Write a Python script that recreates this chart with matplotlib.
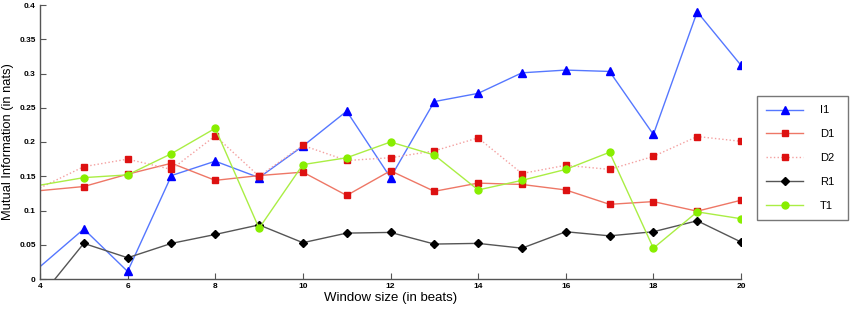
import matplotlib
matplotlib.use("Agg")
import matplotlib.pyplot as plt

plt.rcParams['font.family'] = ['Liberation Sans', 'DejaVu Sans']

window = [4, 5, 6, 7, 8, 9, 10, 11, 12, 13, 14, 15, 16, 17, 18, 19, 20]
I1 = [0.018, 0.073, 0.011, 0.151, 0.172, 0.148, 0.194, 0.245, 0.148, 0.259, 0.271,
      0.301, 0.305, 0.303, 0.211, 0.390, 0.312]
D1 = [0.129, 0.135, 0.153, 0.169, 0.144, 0.151, 0.156, 0.122, 0.158, 0.128, 0.140,
      0.138, 0.130, 0.109, 0.113, 0.099, 0.115]
D2 = [0.133, 0.164, 0.175, 0.160, 0.209, 0.150, 0.195, 0.173, 0.177, 0.187, 0.206,
      0.154, 0.166, 0.160, 0.179, 0.208, 0.201]
R1 = [-0.027, 0.052, 0.031, 0.052, 0.065, 0.079, 0.053, 0.067, 0.068, 0.051, 0.052,
      0.045, 0.069, 0.063, 0.069, 0.085, 0.054]
T1 = [0.137, 0.148, 0.152, 0.183, 0.220, 0.074, 0.167, 0.177, 0.200, 0.181, 0.130,
      0.144, 0.160, 0.185, 0.045, 0.098, 0.088]

labels = ['I1', 'D1', 'D2', 'R1', 'T1']
xticks = [4, 6, 8, 10, 12, 14, 16, 18, 20]
yticks = [0, 0.05, 0.1, 0.15, 0.2, 0.25, 0.3, 0.35, 0.4]
ytick_labels = ['0', '0.05', '0.1', '0.15', '0.2', '0.25', '0.3', '0.35', '0.4']

fig = plt.figure(figsize=(8.5, 3.09), dpi=100)
ax = fig.add_axes([40/850, 1 - 279/309, (741-40)/850, (279-5)/309])

styles = [
    dict(data=I1, color='#5577ff', mfc='#0000ff', marker='^', ls='-', ms=5.5),
    dict(data=D1, color='#ee7766', mfc='#dd1111', marker='s', ls='-', ms=4),
    dict(data=D2, color='#f4a0a0', mfc='#dd1111', marker='s', ls=':', ms=4),
    dict(data=R1, color='#555555', mfc='#000000', marker='D', ls='-', ms=4),
    dict(data=T1, color='#aaee44', mfc='#88ee00', marker='o', ls='-', ms=5),
]
for lab, st in zip(labels, styles):
    ax.plot(window, st['data'], color=st['color'], ls=st['ls'], lw=1.0,
            marker=st['marker'], ms=st['ms'], mfc=st['mfc'], mec=st['mfc'],
            markevery=list(range(1, len(window))), label=lab)

ax.set_xlim(4, 20)
ax.set_ylim(0, 0.4)
ax.set_xticks(xticks)
ax.set_yticks(yticks)
ax.set_yticklabels(ytick_labels)
for s in ['top', 'right']:
    ax.spines[s].set_visible(False)
for s in ['left', 'bottom']:
    ax.spines[s].set_color('#555555')
    ax.spines[s].set_linewidth(1.0)
ax.tick_params(direction='in', length=4, width=0.8, color='#555555',
               labelsize=6, pad=3)
for t in ax.get_xticklabels() + ax.get_yticklabels():
    t.set_fontweight('bold')
ax.set_xlabel('Window size (in beats)', fontsize=9.5, labelpad=1)
ax.set_ylabel('Mutual Information (in nats)', fontsize=9.3, labelpad=4)

leg = ax.legend(loc='upper left',
                bbox_to_anchor=(757/850, 1 - 218/309, 91/850, 122/309),
                bbox_transform=fig.transFigure, mode='expand',
                frameon=True, fancybox=False,
                fontsize=8, handlelength=3.3, labelspacing=1.25, borderpad=0.85,
                handletextpad=1.5, borderaxespad=0)
leg.get_frame().set_edgecolor('#555555')
leg.get_frame().set_linewidth(1.0)

fig.savefig('out.png', dpi=100)
